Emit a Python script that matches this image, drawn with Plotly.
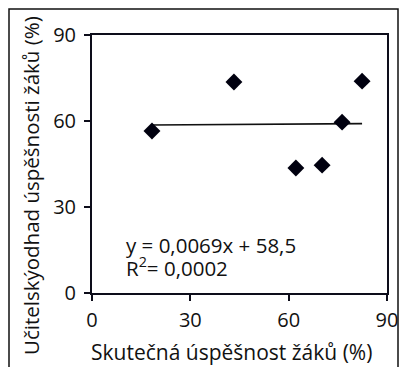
import plotly.graph_objects as go

# actual vs teacher-estimated success of pupils (%)
skutecna = [18.3, 43.3, 62.2, 70.2, 76.3, 82.4]
odhad = [56.5, 73.6, 43.6, 44.6, 59.6, 73.9]

# linear trend as printed on the chart
slope = 0.0069
intercept = 58.5
r2 = 0.0002

tick_vals = [0, 30, 60, 90]

x_title = "Skutečná úspěšnost žáků (%)"
y_title = "Učitelskýodhad úspěšnosti žáků (%)"

W, H = 399, 367
L, R, T, B = 92, 12, 35, 74
pw, ph = W - L - R, H - T - B


def px(x):  # window pixel -> paper x
    return (x - L) / pw


def py(y):  # window pixel -> paper y
    return (H - B - y) / ph


ink = "#0d0d1a"
font = "Open Sans"

trend_x = [min(skutecna), max(skutecna)]
trend_y = [slope * v + intercept for v in trend_x]

fig = go.Figure()
fig.add_trace(go.Scatter(x=trend_x, y=trend_y, mode="lines",
                         line=dict(color="#111111", width=1.6),
                         hoverinfo="skip"))
fig.add_trace(go.Scatter(x=skutecna, y=odhad, mode="markers",
                         marker=dict(symbol="diamond", size=13, color="#00000f")))

axis = dict(range=[0, 90], tickvals=tick_vals, showgrid=False, zeroline=False,
            showline=True, mirror=True, linecolor=ink, linewidth=2,
            ticks="outside", ticklen=6, tickwidth=1.5, tickcolor=ink,
            automargin=False,
            tickfont=dict(family=font, size=20, color="#111111"))

fig.update_layout(
    width=W, height=H,
    margin=dict(l=L, r=R, t=T, b=B),
    paper_bgcolor="white", plot_bgcolor="white",
    showlegend=False,
    xaxis=dict(axis, ticklabelstandoff=2),
    yaxis=dict(axis, ticklabelstandoff=4),
    font=dict(family=font, color="#111111"),
)

eq = "y = {}x + {}".format(str(slope).replace(".", ","), str(intercept).replace(".", ","))
r2_txt = "R<sup>2</sup>= {:.4f}".format(r2).replace(".", ",")

fig.add_annotation(x=px(124), y=py(245), xref="paper", yref="paper", text=eq,
                   showarrow=False, xanchor="left", yanchor="middle",
                   font=dict(size=20.5))
fig.add_annotation(x=px(124), y=py(267), xref="paper", yref="paper", text=r2_txt,
                   showarrow=False, xanchor="left", yanchor="middle",
                   font=dict(size=20.5))

fig.add_annotation(x=px(231), y=py(352), xref="paper", yref="paper", text=x_title,
                   showarrow=False, xanchor="center", yanchor="middle",
                   font=dict(size=21))
fig.add_annotation(x=px(31), y=py(186), xref="paper", yref="paper", text=y_title,
                   showarrow=False, xanchor="center", yanchor="middle", textangle=-90,
                   font=dict(size=20.5))

# outer frame around the figure
fig.add_shape(type="rect", xref="paper", yref="paper",
              x0=px(9), x1=px(398), y0=py(380), y1=py(9),
              line=dict(color="#111111", width=1.5), layer="below")

# no page margin / scrollbars so the figure sits at the window's corner
fig.write_html("out.html", config={"displayModeBar": False}, post_script=(
    "document.body.style.margin='0';"
    "document.body.style.overflow='hidden';"))
